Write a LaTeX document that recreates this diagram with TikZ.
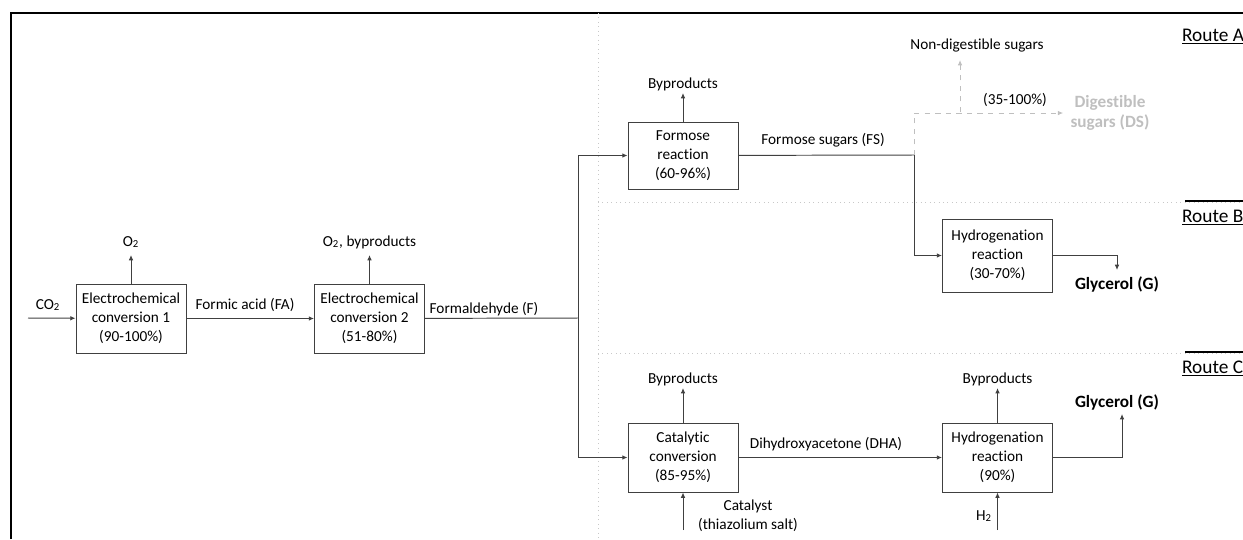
\documentclass[tikz,border=0pt]{standalone}
\usepackage{fontspec}
\setmainfont[Ligatures=NoCommon]{Carlito}
\usetikzlibrary{positioning, arrows.meta}
\definecolor{flowline}{HTML}{404040}
\definecolor{sidegray}{HTML}{BFBFBF}
\definecolor{sepgray}{HTML}{C8C8C8}

\begin{document}
\begin{tikzpicture}[x=0.02cm, y=-0.02cm,
        every node/.style={font=\fontsize{8.7}{10.8}\selectfont, inner sep=1pt},
        box/.style={draw=flowline, line width=0.55pt, align=center, minimum width=2.2cm, minimum height=1.38cm, inner sep=0pt},
        flow/.style={draw=flowline, line width=0.55pt, -{Latex[length=3pt, width=2.6pt]}},
        pipe/.style={draw=flowline, line width=0.55pt},
        side/.style={draw=sidegray, dashed, line width=0.55pt, -{Latex[length=3pt, width=2.6pt]}},
        product/.style={font=\fontsize{9.8}{11.6}\selectfont\bfseries, align=center},
        route/.style={font=\fontsize{11}{13}\selectfont, anchor=base west},
        sep/.style={draw=sepgray, dotted, line width=0.55pt}
    ]
      \useasboundingbox (0,0) rectangle (1243,539);

      % Frame and route separators
      \draw[line width=1.3pt] (11,539) -- (11,13) -- (1243,13);
      \draw[sep] (598,13) -- (598,539);
      \draw[sep] (598,202) -- (1243,202);
      \draw[sep] (598,353) -- (1243,353);
      \draw[line width=1.3pt] (1185,201) -- (1243,201);
      \draw[line width=1.3pt] (1185,352) -- (1243,352);
      \node[route] (routeA) at (1180,41) {\underline{Route A}};
      \node[route] (routeB) at (1180,222) {\underline{Route B}};
      \node[route] (routeC) at (1180,373) {\underline{Route C}};

      % CO2 to formaldehyde
      \node[box] (ec1) at (131,318.5) {Electrochemical\\conversion 1\\(90-100\%)};
      \node[box] (ec2) at (369.5,318.5) {Electrochemical\\conversion 2\\(51-80\%)};
      \coordinate (co2in) at (28,318);
      \coordinate (o2out) at (131,255);
      \coordinate (o2bout) at (369.5,255);
      \coordinate (fsplit) at (578,318);
      \node (co2) at (48,305) {CO\textsubscript{2}};
      \node (o2) at (131,242) {O\textsubscript{2}};
      \node (o2b) at (369.5,242) {O\textsubscript{2}, byproducts};
      \node (fa) at (245,305) {Formic acid (FA)};
      \node (f) at (484,309) {Formaldehyde (F)};
      \draw[flow] (co2in) -- (ec1);
      \draw[flow] (ec1) -- (o2out);
      \draw[flow] (ec1) -- (ec2);
      \draw[flow] (ec2) -- (o2bout);
      \draw[pipe] (ec2) -- (fsplit);

      % Route A: formose sugars
      \node[box, minimum height=1.34cm] (formose) at (683,155.5) {Formose\\reaction\\(60-96\%)};
      \coordinate (fbyout) at (683,93);
      \coordinate (fsjoin) at (914,155);
      \coordinate (ndsplit) at (960,112);
      \coordinate (ndout) at (960,60);
      \node (fbyp) at (683,84) {Byproducts};
      \node (fs) at (823,140) {Formose sugars (FS)};
      \node (nds) at (977,45) {Non-digestible sugars};
      \node (yieldA) at (1015,100) {(35-100\%)};
      \node[product, text=sidegray, inner sep=4pt] (ds) at (1110,113) {Digestible\\sugars (DS)};
      \draw[flow] (fsplit) |- (formose);
      \draw[flow] (formose) -- (fbyout);
      \draw[pipe] (formose) -- (fsjoin);
      \draw[side] (fsjoin) |- (ds);
      \draw[side] (ndsplit) -- (ndout);

      % Route B: hydrogenation of formose sugars
      \node[box, minimum height=1.46cm] (hydroB) at (997.5,255.5) {Hydrogenation\\reaction\\(30-70\%)};
      \coordinate (gBin) at (1117,270);
      \node[product] (glyB) at (1117,284) {Glycerol (G)};
      \draw[flow] (fsjoin) |- (hydroB);
      \draw[flow] (hydroB) -| (gBin);

      % Route C: dihydroxyacetone
      \node[box] (catalytic) at (683,457.5) {Catalytic\\conversion\\(85-95\%)};
      \node[box] (hydroC) at (997.5,457.5) {Hydrogenation\\reaction\\(90\%)};
      \coordinate (cbyout) at (683,388);
      \coordinate (hbyout) at (997.5,388);
      \coordinate (catin) at (683,530);
      \coordinate (h2in) at (997.5,530);
      \coordinate (gCout) at (1122,414);
      \node (cbyp) at (683,379) {Byproducts};
      \node (hbyp) at (997.5,379) {Byproducts};
      \node[align=center] (cat) at (748,516) {Catalyst\\(thiazolium salt)};
      \node (h2) at (984,516) {H\textsubscript{2}};
      \node (dha) at (826,444) {Dihydroxyacetone (DHA)};
      \node[product] (glyC) at (1117,402) {Glycerol (G)};
      \draw[flow] (fsplit) |- (catalytic);
      \draw[flow] (catalytic) -- (cbyout);
      \draw[flow] (catin) -- (catalytic);
      \draw[flow] (catalytic) -- (hydroC);
      \draw[flow] (hydroC) -- (hbyout);
      \draw[flow] (h2in) -- (hydroC);
      \draw[flow] (hydroC) -| (gCout);
    \end{tikzpicture}
\end{document}
